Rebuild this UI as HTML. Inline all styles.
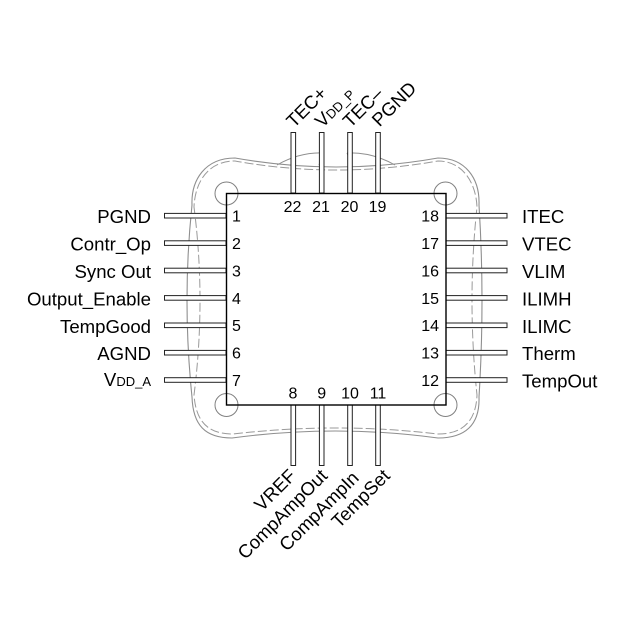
<!DOCTYPE html>
<html>
<head>
<meta charset="utf-8">
<style>
  html, body { margin:0; padding:0; background:#fff; }
  svg { display:block; }
  text { font-family: "Liberation Sans", Arial, sans-serif; fill:#000; }
</style>
</head>
<body>
<svg width="621" height="620" viewBox="0 0 621 620" xmlns="http://www.w3.org/2000/svg">
  <rect width="621" height="620" fill="#fff"/>

  <!-- package outline (solid outer) -->
  <path d="M 192,205 Q 182,300 192,397 C 193,425 205,438 232,438 Q 336,424 438,438 C 465,438 480,425 479,397 Q 485,300 479,205 C 480,178 465,158 438,158 Q 336,176 235,158 C 205,158 191,180 192,205 Z"
        fill="none" stroke="#8f8f8f" stroke-width="1.1"/>
  <!-- package outline (dashed inner) -->
  <path d="M 194,207 Q 206,300 194,395 C 196,422 208,434 233,434 Q 336,422 438,434 C 462,434 476,422 477,395 Q 467,300 477,207 C 476,182 462,161 438,161 Q 336,179 235,161 C 208,161 195,182 194,207 Z"
        fill="none" stroke="#9a9a9a" stroke-width="1" stroke-dasharray="9,3"/>
  <!-- top bumps -->
  <path d="M 277,165 Q 300,152 323,153 L 319,165 M 347,153 L 352,164 M 347,153 Q 372,152 395,165"
        fill="none" stroke="#8f8f8f" stroke-width="1"/>

  <!-- corner circles -->
  <g fill="none" stroke="#808080" stroke-width="1">
    <circle cx="226.5" cy="193.5" r="11.5"/>
    <circle cx="445.5" cy="193.5" r="11.5"/>
    <circle cx="226.5" cy="405" r="11.5"/>
    <circle cx="445.5" cy="405" r="11.5"/>
  </g>

  <!-- pins -->
  <g fill="#fff" stroke="#222" stroke-width="1">
    <!-- left -->
    <rect x="164.5" y="213.4" width="61.5" height="4.6"/>
    <rect x="164.5" y="240.8" width="61.5" height="4.6"/>
    <rect x="164.5" y="268.2" width="61.5" height="4.6"/>
    <rect x="164.5" y="295.6" width="61.5" height="4.6"/>
    <rect x="164.5" y="323.0" width="61.5" height="4.6"/>
    <rect x="164.5" y="350.4" width="61.5" height="4.6"/>
    <rect x="164.5" y="377.7" width="61.5" height="4.6"/>
    <!-- right -->
    <rect x="446" y="213.4" width="61" height="4.6"/>
    <rect x="446" y="240.8" width="61" height="4.6"/>
    <rect x="446" y="268.2" width="61" height="4.6"/>
    <rect x="446" y="295.6" width="61" height="4.6"/>
    <rect x="446" y="323.0" width="61" height="4.6"/>
    <rect x="446" y="350.4" width="61" height="4.6"/>
    <rect x="446" y="377.7" width="61" height="4.6"/>
    <!-- top -->
    <rect x="291" y="132.5" width="4.6" height="60.5"/>
    <rect x="319.4" y="132.5" width="4.6" height="60.5"/>
    <rect x="347.7" y="132.5" width="4.6" height="60.5"/>
    <rect x="375.7" y="132.5" width="4.6" height="60.5"/>
    <!-- bottom -->
    <rect x="291" y="405" width="4.6" height="60.5"/>
    <rect x="319.4" y="405" width="4.6" height="60.5"/>
    <rect x="347.7" y="405" width="4.6" height="60.5"/>
    <rect x="375.7" y="405" width="4.6" height="60.5"/>
  </g>

  <!-- main body -->
  <rect x="226.5" y="193.5" width="219.5" height="211.5" fill="none" stroke="#000" stroke-width="1.4"/>

  <!-- pin numbers -->
  <g font-size="16">
    <text x="232" y="221.6">1</text>
    <text x="232" y="249">2</text>
    <text x="232" y="276.4">3</text>
    <text x="232" y="303.8">4</text>
    <text x="232" y="331.2">5</text>
    <text x="232" y="358.6">6</text>
    <text x="232" y="385.9">7</text>
    <g text-anchor="end">
      <text x="439" y="221.6">18</text>
      <text x="439" y="249">17</text>
      <text x="439" y="276.4">16</text>
      <text x="439" y="303.8">15</text>
      <text x="439" y="331.2">14</text>
      <text x="439" y="358.6">13</text>
      <text x="439" y="385.9">12</text>
    </g>
    <g text-anchor="middle">
      <text x="292.5" y="211.8">22</text>
      <text x="321" y="211.8">21</text>
      <text x="349.5" y="211.8">20</text>
      <text x="377.5" y="211.8">19</text>
      <text x="293" y="398.3">8</text>
      <text x="321.7" y="398.3">9</text>
      <text x="350" y="398.3">10</text>
      <text x="378" y="398.3">11</text>
    </g>
  </g>

  <!-- left labels -->
  <g font-size="18.6" text-anchor="end">
    <text x="151" y="223.2">PGND</text>
    <text x="151" y="250.6">Contr_Op</text>
    <text x="151" y="278">Sync Out</text>
    <text x="151" y="305.4">Output_Enable</text>
    <text x="151" y="332.8">TempGood</text>
    <text x="151" y="360.2">AGND</text>
    <text x="151" y="386"><tspan>V</tspan><tspan font-size="13">DD_A</tspan></text>
  </g>

  <!-- right labels -->
  <g font-size="18.6">
    <text x="522" y="223.2">ITEC</text>
    <text x="522" y="250.6">VTEC</text>
    <text x="522" y="278">VLIM</text>
    <text x="522" y="305.4">ILIMH</text>
    <text x="522" y="332.8">ILIMC</text>
    <text x="522" y="360.2">Therm</text>
    <text x="522" y="387.5">TempOut</text>
  </g>

  <!-- top labels (rotated) -->
  <g font-size="18.6">
    <text transform="translate(294,128.5) rotate(-45)">TEC+</text>
    <text transform="translate(322.5,128.5) rotate(-45)"><tspan>V</tspan><tspan font-size="13">DD_P</tspan></text>
    <text transform="translate(350.5,128.5) rotate(-45)">TEC–</text>
    <text transform="translate(379.5,127.5) rotate(-45)">PGND</text>
  </g>

  <!-- bottom labels (rotated) -->
  <g font-size="18.6" text-anchor="end">
    <text transform="translate(297,477) rotate(-45)">VREF</text>
    <text transform="translate(328.5,477) rotate(-45)">CompAmpOut</text>
    <text transform="translate(360,479) rotate(-45)">CompAmpIn</text>
    <text transform="translate(391,477) rotate(-45)">TempSet</text>
  </g>
</svg>
</body>
</html>
